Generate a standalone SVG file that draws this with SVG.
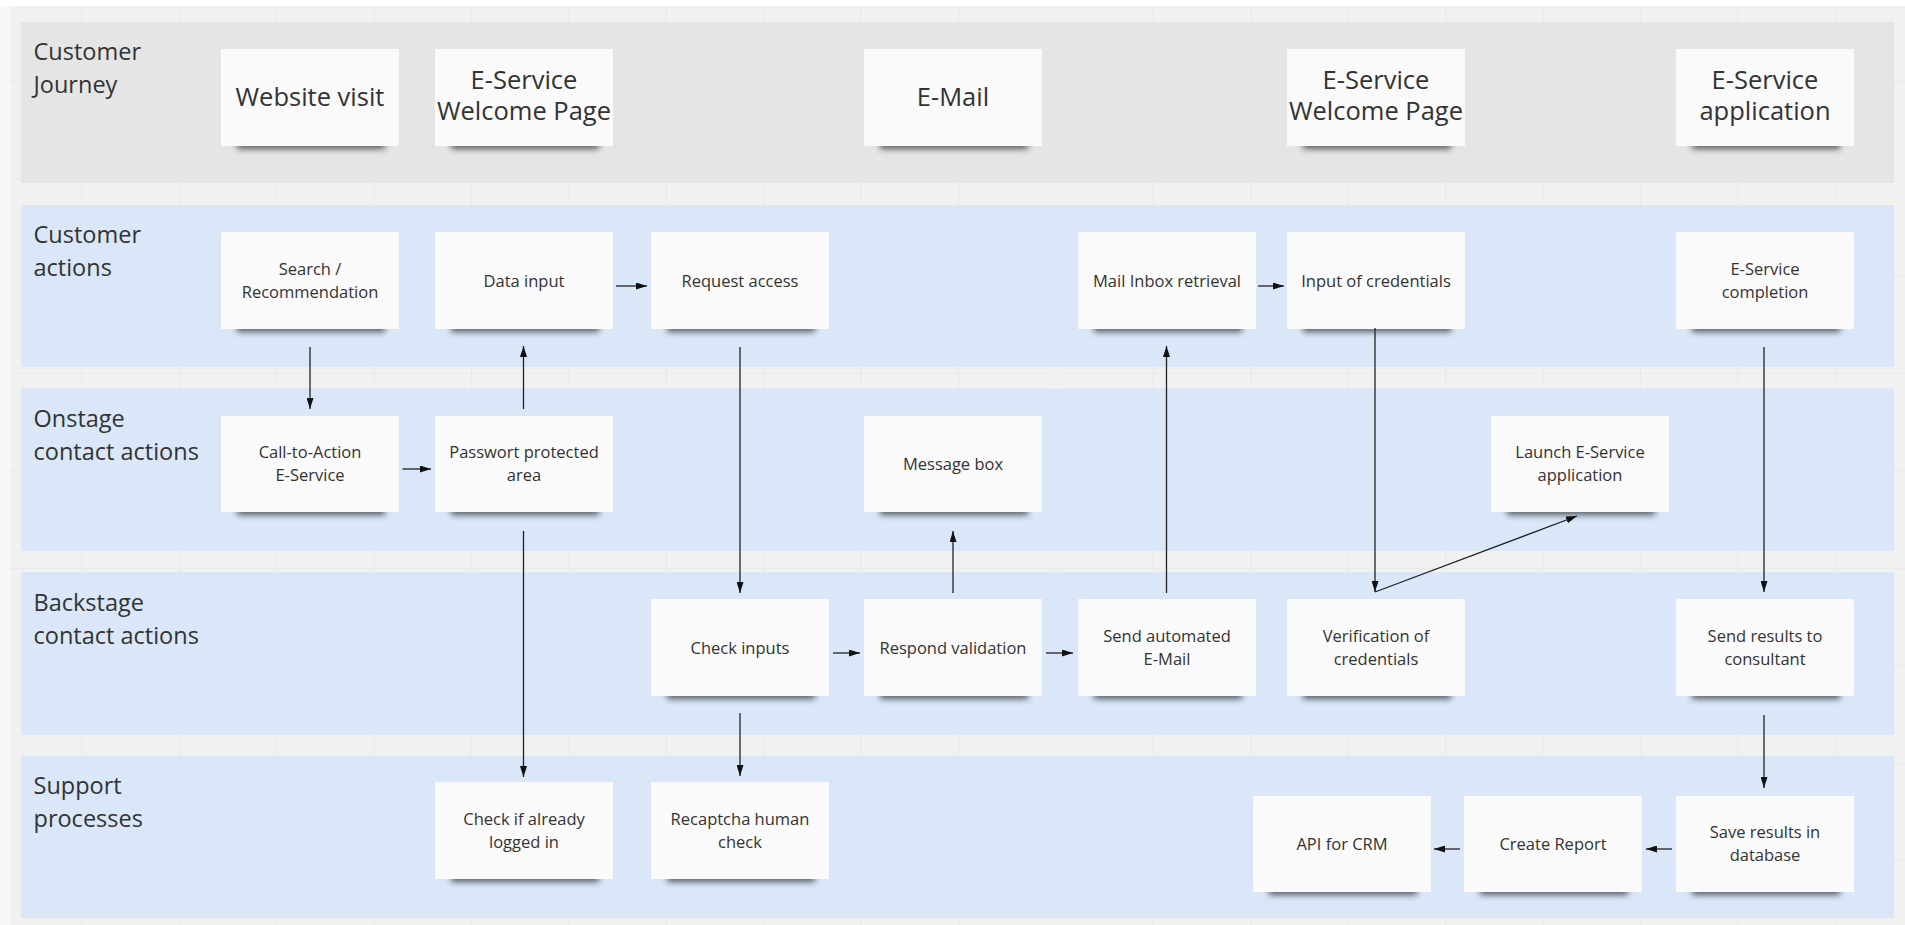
<svg xmlns="http://www.w3.org/2000/svg" width="1905" height="925" viewBox="0 0 1905 925">
  <defs>
    <style>
      .lane-grey { fill: #e5e5e5; }
      .lane-blue { fill: #d9e7f9; }
      .lane-label { font-family: "Open Sans", "Liberation Sans", sans-serif; font-size: 23.5px; fill: #333; }
      .card { fill: #fafafa; }
      .shadow { fill: #000; opacity: 0.6; filter: url(#blur); }
      .t-big { font-family: "Open Sans", "Liberation Sans", sans-serif; font-size: 25.5px; fill: #333; text-anchor: middle; }
      .t-small { font-family: "Open Sans", "Liberation Sans", sans-serif; font-size: 16.5px; fill: #333; text-anchor: middle; }
      .conn { stroke: #222; stroke-width: 1.3; fill: none; marker-end: url(#arrow); }
    </style>
    <filter id="blur" x="-20%" y="-200%" width="140%" height="500%">
      <feGaussianBlur stdDeviation="3"/>
    </filter>
    <marker id="arrow" markerUnits="userSpaceOnUse" markerWidth="11" markerHeight="7" refX="11" refY="3.5" orient="auto">
      <path d="M0,0 L11,3.5 L0,7 z" fill="#111"/>
    </marker>
    <pattern id="grid" patternUnits="userSpaceOnUse" x="81.5" y="81" width="97.4" height="97.4">
      <rect width="97.4" height="97.4" fill="#f1f1f1"/>
      <path d="M0,0 H97.4 M0,0 V97.4" stroke="#e3e3e3" stroke-width="1.2" fill="none"/>
    </pattern>
  </defs>

  <!-- board background -->
  <rect width="1905" height="925" fill="#ffffff"/>
  <rect x="0" y="6" width="1905" height="919" fill="url(#grid)"/>
  <rect x="0" y="6" width="11" height="919" fill="#ffffff" opacity="0.45"/>

  <!-- swimlanes -->
  <g id="lanes">
    <rect class="lane-grey" x="21" y="22" width="1873" height="161"/>
    <rect class="lane-blue" x="21" y="205" width="1873" height="162"/>
    <rect class="lane-blue" x="21" y="388.5" width="1873" height="162.5"/>
    <rect class="lane-blue" x="21" y="572" width="1873" height="163"/>
    <rect class="lane-blue" x="21" y="756" width="1873" height="162"/>
  </g>

  <g id="lane-labels">
    <text class="lane-label" x="33.5" y="60">Customer</text>
    <text class="lane-label" x="33.5" y="93">Journey</text>
    <text class="lane-label" x="33.5" y="243">Customer</text>
    <text class="lane-label" x="33.5" y="276">actions</text>
    <text class="lane-label" x="33.5" y="427">Onstage</text>
    <text class="lane-label" x="33.5" y="460">contact actions</text>
    <text class="lane-label" x="33.5" y="611">Backstage</text>
    <text class="lane-label" x="33.5" y="644">contact actions</text>
    <text class="lane-label" x="33.5" y="794">Support</text>
    <text class="lane-label" x="33.5" y="827">processes</text>
  </g>

  <!-- Customer Journey row -->
  <g id="website-visit">
    <rect class="shadow" x="237" y="139" width="148" height="10"/>
    <rect class="card" x="221" y="49" width="178" height="97"/>
    <text class="t-big" x="310" y="106">Website visit</text>
  </g>
  <g id="welcome-page-1">
    <rect class="shadow" x="451" y="139" width="148" height="10"/>
    <rect class="card" x="435" y="49" width="178" height="97"/>
    <text class="t-big" x="524" y="88.5">E-Service</text>
    <text class="t-big" x="524" y="120">Welcome Page</text>
  </g>
  <g id="email">
    <rect class="shadow" x="880" y="139" width="148" height="10"/>
    <rect class="card" x="864" y="49" width="178" height="97"/>
    <text class="t-big" x="953" y="106">E-Mail</text>
  </g>
  <g id="welcome-page-2">
    <rect class="shadow" x="1303" y="139" width="148" height="10"/>
    <rect class="card" x="1287" y="49" width="178" height="97"/>
    <text class="t-big" x="1376" y="88.5">E-Service</text>
    <text class="t-big" x="1376" y="120">Welcome Page</text>
  </g>
  <g id="eservice-application">
    <rect class="shadow" x="1692" y="139" width="148" height="10"/>
    <rect class="card" x="1676" y="49" width="178" height="97"/>
    <text class="t-big" x="1765" y="88.5">E-Service</text>
    <text class="t-big" x="1765" y="120">application</text>
  </g>

  <!-- Customer actions row -->
  <g id="search">
    <rect class="shadow" x="237" y="322" width="148" height="10"/>
    <rect class="card" x="221" y="232" width="178" height="97"/>
    <text class="t-small" x="310" y="274.5">Search /</text>
    <text class="t-small" x="310" y="297.5">Recommendation</text>
  </g>
  <g id="data-input">
    <rect class="shadow" x="451" y="322" width="148" height="10"/>
    <rect class="card" x="435" y="232" width="178" height="97"/>
    <text class="t-small" x="524" y="286.5">Data input</text>
  </g>
  <g id="request-access">
    <rect class="shadow" x="667" y="322" width="148" height="10"/>
    <rect class="card" x="651" y="232" width="178" height="97"/>
    <text class="t-small" x="740" y="286.5">Request access</text>
  </g>
  <g id="mail-inbox">
    <rect class="shadow" x="1094" y="322" width="148" height="10"/>
    <rect class="card" x="1078" y="232" width="178" height="97"/>
    <text class="t-small" x="1167" y="286.5">Mail Inbox retrieval</text>
  </g>
  <g id="input-credentials">
    <rect class="shadow" x="1303" y="322" width="148" height="10"/>
    <rect class="card" x="1287" y="232" width="178" height="97"/>
    <text class="t-small" x="1376" y="286.5">Input of credentials</text>
  </g>
  <g id="eservice-completion">
    <rect class="shadow" x="1692" y="322" width="148" height="10"/>
    <rect class="card" x="1676" y="232" width="178" height="97"/>
    <text class="t-small" x="1765" y="274.5">E-Service</text>
    <text class="t-small" x="1765" y="297.5">completion</text>
  </g>

  <!-- Onstage contact actions row -->
  <g id="call-to-action">
    <rect class="shadow" x="237" y="505" width="148" height="10"/>
    <rect class="card" x="221" y="416" width="178" height="96"/>
    <text class="t-small" x="310" y="458">Call-to-Action</text>
    <text class="t-small" x="310" y="481">E-Service</text>
  </g>
  <g id="password-area">
    <rect class="shadow" x="451" y="505" width="148" height="10"/>
    <rect class="card" x="435" y="416" width="178" height="96"/>
    <text class="t-small" x="524" y="458">Passwort protected</text>
    <text class="t-small" x="524" y="481">area</text>
  </g>
  <g id="message-box">
    <rect class="shadow" x="880" y="505" width="148" height="10"/>
    <rect class="card" x="864" y="416" width="178" height="96"/>
    <text class="t-small" x="953" y="470">Message box</text>
  </g>
  <g id="launch-eservice">
    <rect class="shadow" x="1507" y="505" width="148" height="10"/>
    <rect class="card" x="1491" y="416" width="178" height="96"/>
    <text class="t-small" x="1580" y="458">Launch E-Service</text>
    <text class="t-small" x="1580" y="481">application</text>
  </g>

  <!-- Backstage contact actions row -->
  <g id="check-inputs">
    <rect class="shadow" x="667" y="689" width="148" height="10"/>
    <rect class="card" x="651" y="599" width="178" height="97"/>
    <text class="t-small" x="740" y="653.5">Check inputs</text>
  </g>
  <g id="respond-validation">
    <rect class="shadow" x="880" y="689" width="148" height="10"/>
    <rect class="card" x="864" y="599" width="178" height="97"/>
    <text class="t-small" x="953" y="653.5">Respond validation</text>
  </g>
  <g id="send-email">
    <rect class="shadow" x="1094" y="689" width="148" height="10"/>
    <rect class="card" x="1078" y="599" width="178" height="97"/>
    <text class="t-small" x="1167" y="641.5">Send automated</text>
    <text class="t-small" x="1167" y="664.5">E-Mail</text>
  </g>
  <g id="verify-credentials">
    <rect class="shadow" x="1303" y="689" width="148" height="10"/>
    <rect class="card" x="1287" y="599" width="178" height="97"/>
    <text class="t-small" x="1376" y="641.5">Verification of</text>
    <text class="t-small" x="1376" y="664.5">credentials</text>
  </g>
  <g id="send-results">
    <rect class="shadow" x="1692" y="689" width="148" height="10"/>
    <rect class="card" x="1676" y="599" width="178" height="97"/>
    <text class="t-small" x="1765" y="641.5">Send results to</text>
    <text class="t-small" x="1765" y="664.5">consultant</text>
  </g>

  <!-- Support processes row -->
  <g id="check-logged-in">
    <rect class="shadow" x="451" y="872" width="148" height="10"/>
    <rect class="card" x="435" y="782" width="178" height="97"/>
    <text class="t-small" x="524" y="824.5">Check if already</text>
    <text class="t-small" x="524" y="847.5">logged in</text>
  </g>
  <g id="recaptcha">
    <rect class="shadow" x="667" y="872" width="148" height="10"/>
    <rect class="card" x="651" y="782" width="178" height="97"/>
    <text class="t-small" x="740" y="824.5">Recaptcha human</text>
    <text class="t-small" x="740" y="847.5">check</text>
  </g>
  <g id="api-crm">
    <rect class="shadow" x="1269" y="885" width="148" height="10"/>
    <rect class="card" x="1253" y="796" width="178" height="96"/>
    <text class="t-small" x="1342" y="850">API for CRM</text>
  </g>
  <g id="create-report">
    <rect class="shadow" x="1480" y="885" width="148" height="10"/>
    <rect class="card" x="1464" y="796" width="178" height="96"/>
    <text class="t-small" x="1553" y="850">Create Report</text>
  </g>
  <g id="save-results">
    <rect class="shadow" x="1692" y="885" width="148" height="10"/>
    <rect class="card" x="1676" y="796" width="178" height="96"/>
    <text class="t-small" x="1765" y="838">Save results in</text>
    <text class="t-small" x="1765" y="861">database</text>
  </g>

  <!-- connectors -->
  <g id="connectors">
    <path class="conn" d="M310,347 V409"/>
    <path class="conn" d="M523.5,409 V346"/>
    <path class="conn" d="M402.5,469 H431"/>
    <path class="conn" d="M616,286 H647"/>
    <path class="conn" d="M523.5,531 V777"/>
    <path class="conn" d="M740,347 V593"/>
    <path class="conn" d="M740,713 V776"/>
    <path class="conn" d="M833,653 H860"/>
    <path class="conn" d="M953,593 V531"/>
    <path class="conn" d="M1046,653 H1073"/>
    <path class="conn" d="M1166.5,593 V346"/>
    <path class="conn" d="M1258,286 H1284"/>
    <path class="conn" d="M1375,328 V592"/>
    <path class="conn" d="M1375,592 L1577,516"/>
    <path class="conn" d="M1764,347 V592"/>
    <path class="conn" d="M1764,715 V788"/>
    <path class="conn" d="M1672,849 H1646"/>
    <path class="conn" d="M1460,849 H1434"/>
  </g>
</svg>
